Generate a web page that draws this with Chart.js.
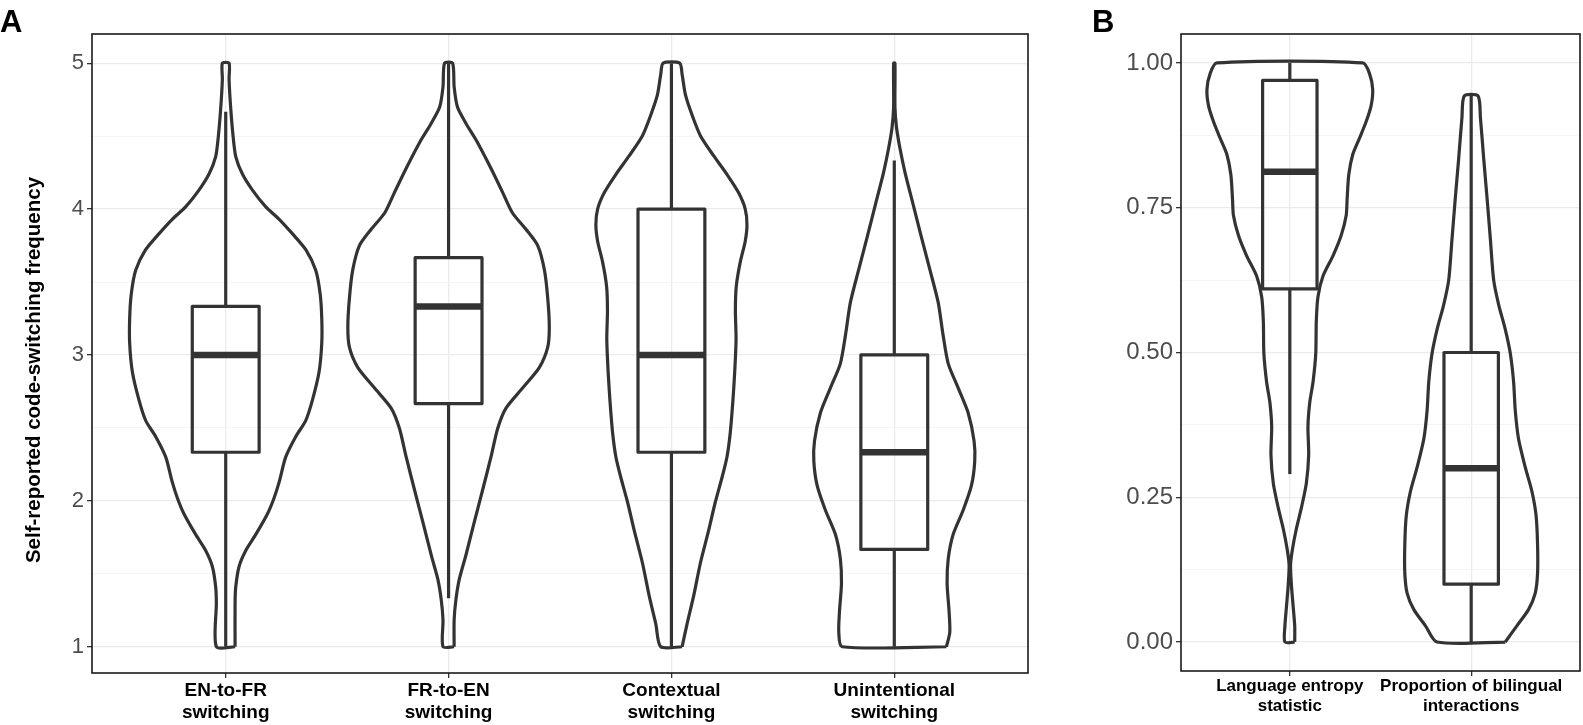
<!DOCTYPE html>
<html>
<head>
<meta charset="utf-8">
<title>Self-reported code-switching</title>
<script src="https://cdn.jsdelivr.net/npm/chart.js@4.4.1/dist/chart.umd.min.js"></script>
<style>
  html, body { margin: 0; padding: 0; background: #fff; }
  body { width: 1583px; height: 725px; position: relative; overflow: hidden; }
  canvas { position: absolute; top: 0; }
  #chartA { left: 0; }
  #chartB { left: 1060px; }
</style>
</head>
<body>
<canvas id="chartA" width="1060" height="725"></canvas>
<canvas id="chartB" width="523" height="725"></canvas>
<script>
// ---- panel A: code-switching frequency (1-5 scale) ----
const categoriesA = ['EN-to-FR switching', 'FR-to-EN switching', 'Contextual switching', 'Unintentional switching'];
const yTicksA = [1, 2, 3, 4, 5];
const yMinorA = [1.5, 2.5, 3.5, 4.5];

// box stats per category
const whiskerLowA = [1.0, 1.333, 1.0, 1.0];
const q1A = [2.333, 2.667, 2.333, 1.667];
const medianA = [3.0, 3.333, 3.0, 2.333];
const q3A = [3.333, 3.667, 4.0, 3.0];
const whiskerHighA = [4.667, 5.0, 5.0, 4.333];

// violin outlines: y levels and half widths (category units)
const enfrY = [1.0, 1.3, 1.41, 1.55, 1.66, 1.77, 1.91, 2.02, 2.13, 2.30, 2.44, 2.55, 2.69, 2.885, 3.08, 3.25, 3.415, 3.58, 3.72, 3.83, 3.93, 4.015, 4.13, 4.24, 4.36, 4.5, 4.7, 4.89, 5.0];
const enfrW = [0.042, 0.042, 0.045, 0.06, 0.09, 0.135, 0.187, 0.217, 0.24, 0.269, 0.314, 0.359, 0.389, 0.419, 0.431, 0.431, 0.424, 0.404, 0.36, 0.30, 0.24, 0.18, 0.12, 0.075, 0.045, 0.033, 0.022, 0.015, 0.015];

const frenY = [1.0, 1.183, 1.323, 1.462, 1.629, 1.852, 2.076, 2.299, 2.494, 2.634, 2.773, 2.913, 3.053, 3.192, 3.388, 3.583, 3.75, 3.862, 3.973, 4.113, 4.28, 4.475, 4.587, 4.699, 4.838, 5.0];
const frenW = [0.025, 0.025, 0.033, 0.048, 0.078, 0.115, 0.153, 0.19, 0.22, 0.257, 0.332, 0.407, 0.445, 0.452, 0.445, 0.43, 0.4, 0.347, 0.287, 0.243, 0.19, 0.123, 0.078, 0.04, 0.025, 0.018];

const contextY = [1.0, 1.155, 1.35, 1.574, 1.797, 1.992, 2.16, 2.299, 2.467, 2.69, 2.885, 3.108, 3.304, 3.471, 3.638, 3.778, 3.89, 4.001, 4.113, 4.238, 4.364, 4.503, 4.643, 4.782, 4.922, 5.0];
const contextW = [0.048, 0.07, 0.1, 0.13, 0.167, 0.197, 0.227, 0.249, 0.264, 0.276, 0.284, 0.29, 0.287, 0.291, 0.309, 0.331, 0.339, 0.331, 0.301, 0.249, 0.19, 0.13, 0.093, 0.063, 0.048, 0.037];

const unintY = [1.0, 1.099, 1.239, 1.434, 1.602, 1.769, 1.936, 2.104, 2.271, 2.411, 2.606, 2.773, 2.941, 3.136, 3.36, 3.583, 3.806, 4.029, 4.252, 4.42, 4.559, 4.699, 5.0];
const unintW = [0.234, 0.249, 0.246, 0.237, 0.242, 0.264, 0.309, 0.346, 0.361, 0.358, 0.331, 0.287, 0.242, 0.219, 0.197, 0.16, 0.122, 0.085, 0.048, 0.025, 0.01, 0.003, 0.003];

// ---- panel B: proportions (0-1) ----
const categoriesB = ['Language entropy statistic', 'Proportion of bilingual interactions'];
const yTicksB = [0, 0.25, 0.5, 0.75, 1];
const yMinorB = [0.125, 0.375, 0.625, 0.875];

const whiskerLowB = [0.29, 0.0];
const q1B = [0.61, 0.10];
const medianB = [0.812, 0.30];
const q3B = [0.97, 0.50];
const whiskerHighB = [1.0, 0.943];

const entropyY = [0.0, 0.028, 0.063, 0.098, 0.133, 0.161, 0.197, 0.232, 0.274, 0.323, 0.372, 0.414, 0.449, 0.498, 0.554, 0.596, 0.632, 0.667, 0.702, 0.737, 0.765, 0.807, 0.842, 0.87, 0.898, 0.926, 0.954, 0.982, 1.0];
const entropyW = [0.027, 0.027, 0.018, 0.009, 0.004, 0.015, 0.037, 0.064, 0.091, 0.104, 0.1, 0.11, 0.128, 0.143, 0.146, 0.155, 0.183, 0.238, 0.283, 0.311, 0.316, 0.325, 0.347, 0.384, 0.42, 0.448, 0.457, 0.439, 0.402];

const bilingY = [0.0, 0.028, 0.056, 0.084, 0.119, 0.168, 0.218, 0.26, 0.302, 0.351, 0.4, 0.449, 0.498, 0.54, 0.582, 0.625, 0.695, 0.765, 0.835, 0.905, 0.943];
const bilingW = [0.188, 0.252, 0.316, 0.353, 0.366, 0.366, 0.358, 0.335, 0.298, 0.261, 0.243, 0.234, 0.216, 0.188, 0.152, 0.124, 0.106, 0.088, 0.069, 0.051, 0.038];

// ---- styling ----
const FONT = '"Liberation Sans", Arial, Helvetica, sans-serif';
const INK = '#333333';
const BOX_HALF = 0.15;

function splitLabel(label) {
  const cut = label.lastIndexOf(' ');
  return [label.slice(0, cut), label.slice(cut + 1)];
}

function lineSet(points, width, tension) {
  return {
    data: points,
    showLine: true,
    borderColor: INK,
    borderWidth: width,
    pointRadius: 0,
    pointHoverRadius: 0,
    tension: tension || 0,
    fill: false,
    borderJoinStyle: 'round',
    borderCapStyle: 'butt'
  };
}

function violin(pos, ys, ws) {
  const right = ys.map((y, i) => ({ x: pos + ws[i], y }));
  const left = ys.map((y, i) => ({ x: pos - ws[i], y })).reverse();
  return lineSet(right.concat(left, [right[0]]), 3.2, 0.25);
}

function boxplot(pos, lo, q1, med, q3, hi) {
  const a = pos - BOX_HALF, b = pos + BOX_HALF;
  return [
    lineSet([{ x: a, y: med }, { x: b, y: med }], 6.5),
    lineSet([{ x: a, y: q1 }, { x: b, y: q1 }, { x: b, y: q3 }, { x: a, y: q3 }, { x: a, y: q1 }], 3.2),
    lineSet([{ x: pos, y: lo }, { x: pos, y: q1 }], 3.2),
    lineSet([{ x: pos, y: q3 }, { x: pos, y: hi }], 3.2)
  ];
}

function yScale(min, max, major, minor, fmt, size, width) {
  const all = major.concat(minor).sort((a, b) => a - b);
  const isMajor = v => major.some(m => Math.abs(m - v) < 1e-9);
  const tickMajor = c => c.tick && isMajor(c.tick.value);
  return {
    type: 'linear',
    min: min,
    max: max,
    afterBuildTicks: s => { s.ticks = all.map(v => ({ value: v })); },
    afterFit: s => { s.width = width; },
    ticks: {
      autoSkip: false,
      padding: 3,
      color: '#4d4d4d',
      font: { family: FONT, size: size },
      callback: v => isMajor(v) ? fmt(v) : ''
    },
    grid: {
      color: c => tickMajor(c) ? '#ebebeb' : '#f3f3f3',
      lineWidth: c => tickMajor(c) ? 1.3 : 0.8,
      tickColor: c => tickMajor(c) ? INK : 'rgba(0,0,0,0)',
      tickLength: 5,
      tickWidth: 1.3
    },
    border: { display: false }
  };
}

function xScale(cats, height, size, lineHeight, padding) {
  const pos = cats.map((_, i) => i + 1);
  return {
    type: 'linear',
    min: 0.4,
    max: cats.length + 0.6,
    afterBuildTicks: s => { s.ticks = pos.map(v => ({ value: v })); },
    afterFit: s => { s.height = height; },
    ticks: {
      autoSkip: false,
      maxRotation: 0,
      padding: padding,
      color: '#000',
      font: { family: FONT, size: size, weight: 'bold', lineHeight: lineHeight },
      callback: v => splitLabel(cats[Math.round(v) - 1])
    },
    grid: { color: '#ebebeb', lineWidth: 1.3, tickColor: INK, tickLength: 5, tickWidth: 1.3 },
    border: { display: false }
  };
}

// panel frame, panel letter and rotated y title
const decor = {
  id: 'decor',
  afterDraw(chart, args, opts) {
    const { ctx, chartArea: a } = chart;
    ctx.save();
    ctx.strokeStyle = '#1a1a1a';
    ctx.lineWidth = 1.6;
    ctx.strokeRect(a.left, a.top, a.right - a.left, a.bottom - a.top);
    ctx.fillStyle = '#000';
    ctx.font = 'bold 31px ' + FONT;
    ctx.textBaseline = 'alphabetic';
    ctx.fillText(opts.letter, opts.letterX, 32);
    if (opts.title) {
      ctx.translate(opts.titleX, opts.titleY);
      ctx.rotate(-Math.PI / 2);
      ctx.font = 'bold 20.5px ' + FONT;
      ctx.textAlign = 'center';
      ctx.textBaseline = 'middle';
      ctx.fillText(opts.title, 0, 0);
    }
    ctx.restore();
  }
};

function makeChart(id, datasets, scales, padding, decorOpts) {
  return new Chart(document.getElementById(id), {
    type: 'scatter',
    data: { datasets: datasets },
    options: {
      responsive: false,
      animation: false,
      layout: { padding: padding },
      scales: scales,
      plugins: { legend: { display: false }, tooltip: { enabled: false }, decor: decorOpts }
    },
    plugins: [decor]
  });
}

// ---- build panel A ----
const violinsA = [[enfrY, enfrW], [frenY, frenW], [contextY, contextW], [unintY, unintW]];
let setsA = [];
categoriesA.forEach((_, i) => {
  setsA = setsA.concat(boxplot(i + 1, whiskerLowA[i], q1A[i], medianA[i], q3A[i], whiskerHighA[i]));
  setsA.push(violin(i + 1, violinsA[i][0], violinsA[i][1]));
});

makeChart('chartA', setsA, {
  x: xScale(categoriesA, 52, 19, 1.2, 1),
  y: yScale(0.82, 5.2, yTicksA, yMinorA, v => String(v), 22, 92)
}, { top: 34, right: 32, left: 0, bottom: 0 },
{ letter: 'A', letterX: 0, title: 'Self-reported code-switching frequency', titleX: 34, titleY: 370 });

// ---- build panel B ----
const violinsB = [[entropyY, entropyW], [bilingY, bilingW]];
let setsB = [];
categoriesB.forEach((_, i) => {
  setsB = setsB.concat(boxplot(i + 1, whiskerLowB[i], q1B[i], medianB[i], q3B[i], whiskerHighB[i]));
  setsB.push(violin(i + 1, violinsB[i][0], violinsB[i][1]));
});

makeChart('chartB', setsB, {
  x: xScale(categoriesB, 54, 17, 1.18, 0),
  y: yScale(-0.05, 1.05, yTicksB, yMinorB, v => v.toFixed(2), 24, 121)
}, { top: 34, right: 3, left: 0, bottom: 0 },
{ letter: 'B', letterX: 32 });
</script>
</body>
</html>
